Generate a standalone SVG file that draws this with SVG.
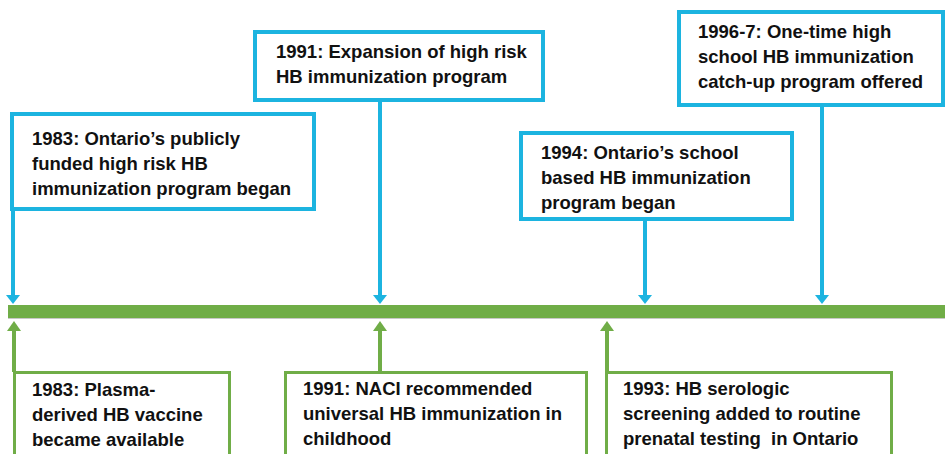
<svg xmlns="http://www.w3.org/2000/svg" width="945" height="454" viewBox="0 0 945 454">
<style>
.bb{fill:#fff;stroke:#1CB4E0;stroke-width:4}
.gb{fill:#fff;stroke:#70AD47;stroke-width:3}
.bl{stroke:#1CB4E0;stroke-width:4;fill:none}
.gl{stroke:#70AD47;stroke-width:4;fill:none}
.bh{fill:#1CB4E0}
.gh{fill:#70AD47}
text{font-family:"Liberation Sans",Arial,sans-serif;font-weight:bold;font-size:18.5px;fill:#111}
</style>
<rect width="945" height="454" fill="#fff"/>
<g id="timeline">
<rect x="8" y="305" width="937" height="13" fill="#70AD47"/>
<line x1="8" y1="318.5" x2="945" y2="318.5" stroke="#c8c8c8" stroke-width="1"/>
</g>
<g id="connectors">
<line class="bl" x1="13" y1="209" x2="13" y2="296"/>
<polygon class="bh" points="6,295 20,295 13,304"/>
<line class="bl" x1="380" y1="100" x2="380" y2="296"/>
<polygon class="bh" points="373,295 387,295 380,304"/>
<line class="bl" x1="645" y1="219" x2="645" y2="296"/>
<polygon class="bh" points="638,295 652,295 645,304"/>
<line class="bl" x1="822" y1="105" x2="822" y2="296"/>
<polygon class="bh" points="815,295 829,295 822,304"/>
<line class="gl" x1="14" y1="372" x2="14" y2="330"/>
<polygon class="gh" points="7,331 21,331 14,321"/>
<line class="gl" x1="380" y1="372" x2="380" y2="330"/>
<polygon class="gh" points="373,331 387,331 380,321"/>
<line class="gl" x1="607" y1="372" x2="607" y2="330"/>
<polygon class="gh" points="600,331 614,331 607,321"/>
</g>
<g id="n1983a">
<rect class="bb" x="12" y="114" width="302" height="95"/>
<text x="32" y="145">1983: Ontario’s publicly</text>
<text x="32" y="170">funded high risk HB</text>
<text x="32" y="195">immunization program began</text>
</g>
<g id="n1991a">
<rect class="bb" x="255" y="32" width="288" height="68"/>
<text x="276" y="58">1991: Expansion of high risk</text>
<text x="276" y="83">HB immunization program</text>
</g>
<g id="n1994">
<rect class="bb" x="521" y="133" width="271" height="86"/>
<text x="541" y="159">1994: Ontario’s school</text>
<text x="541" y="184">based HB immunization</text>
<text x="541" y="209">program began</text>
</g>
<g id="n1996">
<rect class="bb" x="679" y="12" width="264" height="93"/>
<text x="698" y="38">1996-7: One-time high</text>
<text x="698" y="63">school HB immunization</text>
<text x="698" y="88">catch-up program offered</text>
</g>
<g id="n1983b">
<rect class="gb" x="14.5" y="372.5" width="215" height="100"/>
<text x="32" y="396">1983: Plasma-</text>
<text x="32" y="421">derived HB vaccine</text>
<text x="32" y="446">became available</text>
</g>
<g id="n1991b">
<rect class="gb" x="285.5" y="372.5" width="301" height="100"/>
<text x="303" y="395">1991: NACI recommended</text>
<text x="303" y="420">universal HB immunization in</text>
<text x="303" y="445">childhood</text>
</g>
<g id="n1993">
<rect class="gb" x="606.5" y="372.5" width="285" height="100"/>
<text x="623" y="395">1993: HB serologic</text>
<text x="623" y="420">screening added to routine</text>
<text x="623" y="445" xml:space="preserve">prenatal testing  in Ontario</text>
</g>
</svg>
